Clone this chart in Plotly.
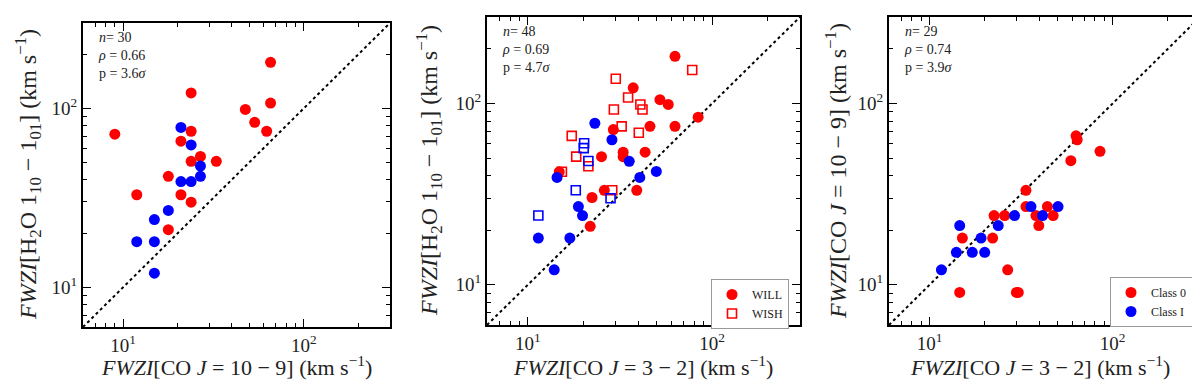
import plotly.graph_objects as go

# ---------------- data ----------------
# Panel 1: CO 10-9 vs H2O 110-101
p1_red_x = [65.5, 23.8, 65.5, 47.5, 53.5, 62.3, 9.0, 23.8, 20.9, 26.8, 23.8, 32.8, 17.8, 11.9, 20.9, 23.8, 17.8]
p1_red_y = [181, 122, 107, 98.7, 83.6, 74.5, 71.7, 74.5, 65.6, 53.9, 50.6, 50.6, 41.7, 32.9, 32.9, 29.9, 21.0]
p1_blue_x = [20.9, 23.8, 26.8, 26.8, 20.9, 23.8, 17.8, 14.9, 11.9, 14.9, 14.9]
p1_blue_y = [78.2, 62.5, 47.6, 41.7, 39.0, 39.0, 26.9, 23.9, 18.0, 18.0, 12.0]

# Panel 2: CO 3-2 vs H2O 110-101
p2_will_red_x = [62.9, 37.3, 52.1, 57.8, 84.0, 29.1, 46.0, 62.9, 25.1, 32.9, 32.9, 43.3, 14.8, 26.0, 39.0, 22.3, 21.8]
p2_will_red_y = [182, 122, 105, 98.8, 84.1, 71.8, 74.8, 74.8, 50.9, 53.9, 50.9, 53.9, 42.0, 33.2, 33.2, 30.3, 21.0]
p2_wish_red_x = [78.0, 30.0, 35.0, 40.8, 41.9, 29.3, 32.3, 40.0, 17.3, 18.3, 21.3, 15.3, 28.7]
p2_wish_red_y = [153, 137, 108, 98.8, 92.7, 92.7, 74.8, 68.9, 66.3, 50.9, 45.1, 42.0, 33.2]
p2_will_blue_x = [23.1, 28.6, 35.5, 49.8, 40.5, 14.4, 18.8, 19.8, 11.4, 16.9, 13.9]
p2_will_blue_y = [77.8, 63.1, 48.0, 42.2, 39.1, 39.1, 27.0, 24.1, 18.1, 18.1, 12.1]
p2_wish_blue_x = [20.2, 20.1, 21.3, 18.2, 28.1, 11.4]
p2_wish_blue_y = [60.4, 56.7, 48.2, 33.2, 30.0, 24.1]

# Panel 3: CO 3-2 vs CO 10-9
p3_class0_x = [63.1, 64.0, 85.3, 59.1, 33.6, 33.6, 44.0, 38.1, 47.3, 22.5, 25.7, 39.5, 15.1, 22.1, 26.7, 14.6, 29.8, 30.5]
p3_class0_y = [66.3, 63.1, 54.5, 48.4, 33.2, 27.0, 27.0, 24.1, 24.1, 24.1, 24.1, 21.2, 18.1, 18.1, 12.1, 9.08, 9.08, 9.08]
p3_class1_x = [35.8, 50.3, 41.4, 29.1, 23.7, 14.6, 19.1, 14.0, 17.1, 20.0, 11.6]
p3_class1_y = [27.0, 27.0, 24.1, 24.1, 21.2, 21.2, 18.1, 15.1, 15.1, 15.1, 12.1]

stats = [("30", "0.66", "3.6"), ("48", "0.69", "4.7"), ("29", "0.74", "3.9")]
axis_range = [6, 300]
major_ticks = [10, 100]
major_text = ["10<sup>1</sup>", "10<sup>2</sup>"]
minor_ticks = [7, 8, 9, 20, 30, 40, 50, 60, 70, 80, 90, 200, 300]

xlabel_co109 = "<i>FWZI</i>[CO <i>J</i> = 10 − 9] (km s<sup>−1</sup>)"
xlabel_co32 = "<i>FWZI</i>[CO <i>J</i> = 3 − 2] (km s<sup>−1</sup>)"
ylabel_h2o = "<i>FWZI</i>[H<sub>2</sub>O 1<sub>10</sub> − 1<sub>01</sub>] (km s<sup>−1</sup>)"
ylabel_co109 = xlabel_co109

RED = "#ff0000"
BLUE = "#0000ff"
FONT = "Liberation Serif"
W, H = 1200, 381

# panel pixel boxes: (left, right, top, bottom)
boxes = [(75, 382, 15, 319), (479, 792, 9, 317), (881, 1192, 9, 317)]

fig = go.Figure()

def axname(prefix, ax):
    return prefix + ("" if ax == 1 else str(ax))

def add_pts(x, y, color, ax, name=None, legend=None, square=False):
    if square:
        marker = dict(symbol="square-open", size=9, color=color, line=dict(color=color, width=1.6))
    else:
        marker = dict(symbol="circle", size=11, color=color, line=dict(color=color, width=0))
    fig.add_trace(go.Scatter(
        x=x, y=y, mode="markers", marker=marker,
        xaxis=axname("x", ax), yaxis=axname("y", ax),
        name=name, showlegend=legend is not None,
        legend=legend if legend else "legend",
    ))

for ax in (1, 2, 3):
    fig.add_trace(go.Scatter(
        x=axis_range, y=axis_range, mode="lines",
        line=dict(color="black", width=2, dash="3px,3px"),
        xaxis=axname("x", ax), yaxis=axname("y", ax),
        showlegend=False, hoverinfo="skip"))

add_pts(p1_red_x, p1_red_y, RED, 1)
add_pts(p1_blue_x, p1_blue_y, BLUE, 1)

add_pts(p2_will_red_x, p2_will_red_y, RED, 2, name="WILL", legend="legend2")
add_pts(p2_wish_red_x, p2_wish_red_y, RED, 2, name="WISH", legend="legend2", square=True)
add_pts(p2_will_blue_x, p2_will_blue_y, BLUE, 2)
add_pts(p2_wish_blue_x, p2_wish_blue_y, BLUE, 2, square=True)

add_pts(p3_class0_x, p3_class0_y, RED, 3, name="Class 0", legend="legend3")
add_pts(p3_class1_x, p3_class1_y, BLUE, 3, name="Class I", legend="legend3")

def axis_common():
    return dict(
        type="log", range=[0.77815, 2.47712], showgrid=False, zeroline=False,
        showline=True, linecolor="black", linewidth=2, mirror="allticks",
        ticks="inside", ticklen=8, tickwidth=1.3, tickcolor="black",
        tickmode="array", tickvals=major_ticks, ticktext=major_text,
        tickfont=dict(family=FONT, size=19, color="#222"),
        minor=dict(ticks="inside", ticklen=4, tickwidth=1, tickcolor="black",
                   tickmode="array", tickvals=minor_ticks, showgrid=False),
    )

layout = dict(width=W, height=H, margin=dict(l=0, r=0, t=0, b=0),
              paper_bgcolor="white", plot_bgcolor="white", showlegend=True,
              font=dict(family=FONT))
for i, (l, r, t, b) in enumerate(boxes, start=1):
    sfx = "" if i == 1 else str(i)
    xa = axis_common()
    xa["domain"] = [l / W, r / W]
    xa["anchor"] = "y" + sfx
    ya = axis_common()
    ya["domain"] = [1 - b / H, 1 - t / H]
    ya["anchor"] = "x" + sfx
    layout["xaxis" + sfx] = xa
    layout["yaxis" + sfx] = ya

leg_common = dict(bgcolor="white", bordercolor="#999", borderwidth=1,
                  font=dict(family=FONT, size=12, color="#222"),
                  xanchor="left", yanchor="top", itemwidth=30, tracegroupgap=0)
layout["legend"] = dict(visible=False)
layout["legend2"] = dict(leg_common, x=703 / W, y=1 - 271 / H)
layout["legend3"] = dict(leg_common, x=1102 / W, y=1 - 269 / H)

annotations = []
for i, (l, r, t, b) in enumerate(boxes):
    n, rho, p = stats[i]
    annotations.append(dict(
        text=f"<i>n</i>= {n}<br><i>ρ</i> = {rho}<br>p = {p}<i>σ</i>",
        x=(l + 13) / W, y=1 - (t + 5) / H, xref="paper", yref="paper",
        xanchor="left", yanchor="top", align="left", showarrow=False,
        font=dict(family=FONT, size=14, color="#222")))

xlabels = [xlabel_co109, xlabel_co32, xlabel_co32]
ylabels = [ylabel_h2o, ylabel_h2o, ylabel_co109]
ylabel_x = [20, 421, 828]
xlabel_cx = [228, 635, 1032]
for i, (l, r, t, b) in enumerate(boxes):
    annotations.append(dict(
        text=xlabels[i], x=xlabel_cx[i] / W, y=1 - 358 / H, xref="paper", yref="paper",
        xanchor="center", yanchor="middle", showarrow=False,
        font=dict(family=FONT, size=22, color="#222")))
    annotations.append(dict(
        text=ylabels[i], x=ylabel_x[i] / W, y=1 - ((t + b) / 2) / H, xref="paper", yref="paper",
        xanchor="center", yanchor="middle", showarrow=False, textangle=-90,
        font=dict(family=FONT, size=24, color="#222")))
layout["annotations"] = annotations

fig.update_layout(**layout)
fig.write_html("out.html")
